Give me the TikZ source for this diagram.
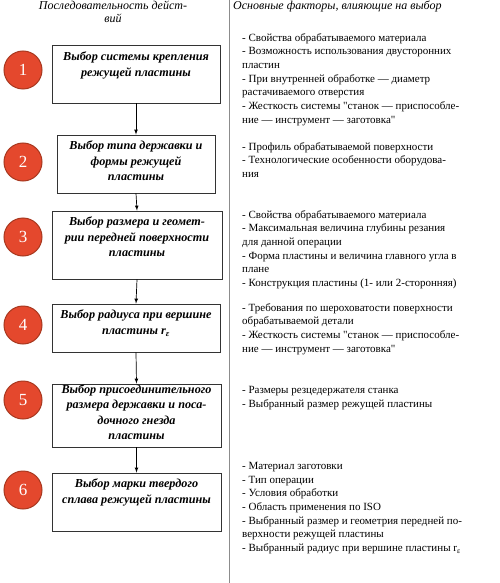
\documentclass[tikz,border=0pt]{standalone}
\usepackage{fontspec}
\setmainfont{Liberation Serif}
\usepackage{tikz}
\usetikzlibrary{shapes,arrows,positioning}
\definecolor{stepred}{HTML}{E4482D}
\definecolor{stepedge}{HTML}{A8381F}
\newcommand{\qq}{\textquotedbl}
\tikzset{
    stepbox/.style={draw=black!80, line width=0.9pt, rectangle, inner sep=0pt},
    boxtext/.style={anchor=north, align=center, inner sep=0pt, font=\fontsize{12.2}{15.3}\selectfont\bfseries\itshape},
    stepnum/.style={circle, fill=stepred, draw=stepedge, line width=1pt, minimum size=38pt, inner sep=0pt, text=white, font=\fontsize{17}{17}\selectfont},
    factors/.style={anchor=north west, align=left, inner sep=0pt, font=\fontsize{11}{13.7}\selectfont},
    head/.style={anchor=north, align=center, inner sep=0pt, font=\fontsize{12}{13.5}\selectfont\itshape}
}

\begin{document}
\begin{tikzpicture}[x=1pt,y=-1pt,>=latex]
    \useasboundingbox[fill=white] (0,0) rectangle (500,583);
    %Headers
    \node[head] (hl) at (113,0.5) {Последовательность дейст-\\вий};
    \node[head, anchor=north west] (hr) at (233,0.5) {Основные факторы, влияющие на выбор};
    %Separator
    \draw[black!45, line width=0.8pt] (229,0) -- (229,583);
    %Steps
    \node[stepbox, minimum width=168pt, minimum height=58pt] (b1) at (136,74) {};
    \node[stepbox, minimum width=158pt, minimum height=58pt] (b2) at (136,164) {};
    \node[stepbox, minimum width=170pt, minimum height=68pt] (b3) at (137,245) {};
    \node[stepbox, minimum width=168pt, minimum height=48pt] (b4) at (136,328) {};
    \node[stepbox, minimum width=169pt, minimum height=63pt] (b5) at (136.5,415.5) {};
    \node[stepbox, minimum width=169pt, minimum height=58pt] (b6) at (136.5,502) {};
    \node[boxtext] (t1) at (136,52) {Выбор системы крепления\\режущей пластины};
    \node[boxtext] (t2) at (136,141) {Выбор типа державки и\\формы режущей\\пластины};
    \node[boxtext] (t3) at (137,217) {Выбор размера и геомет-\\рии передней поверхности\\пластины};
    \node[boxtext] (t4) at (136,310) {Выбор радиуса при вершине\\пластины r\textsubscript{ε}};
    \node[boxtext] (t5) at (136.5,384.5) {Выбор присоединительного\\размера державки и поса-\\дочного гнезда\\пластины};
    \node[boxtext] (t6) at (136.5,479) {Выбор марки твердого\\сплава режущей пластины};
    %Numbers
    \node[stepnum] (n1) at (23,70) {1};
    \node[stepnum] (n2) at (23,162) {2};
    \node[stepnum] (n3) at (23,237) {3};
    \node[stepnum] (n4) at (23,325) {4};
    \node[stepnum] (n5) at (23,400) {5};
    \node[stepnum] (n6) at (23,490) {6};
    %Arrows
    \draw[->, line width=0.7pt] (b1.south) -- (b2.north);
    \draw[->, line width=0.7pt] (b2.south) -- (b3.north);
    \draw[->, line width=0.7pt] (b3.south) -- (b4.north);
    \draw[->, line width=0.7pt] (b4.south) -- (b5.north);
    \draw[->, line width=0.7pt] (b5.south) -- (b6.north);
    %Factors
    \node[factors] (f1) at (242,33) {- Свойства обрабатываемого материала\\- Возможность использования двусторонних\\пластин\\- При внутренней обработке — диаметр\\растачиваемого отверстия\\- Жесткость системы \qq станок — приспособле-\\ние — инструмент — заготовка\qq};
    \node[factors] (f2) at (242,142) {- Профиль обрабатываемой поверхности\\- Технологические особенности оборудова-\\ния};
    \node[factors] (f3) at (242,210) {- Свойства обрабатываемого материала\\- Максимальная величина глубины резания\\для данной операции\\- Форма пластины и величина главного угла в\\плане\\- Конструкция пластины (1- или 2-сторонняя)};
    \node[factors] (f4) at (242,303) {- Требования по шероховатости поверхности\\обрабатываемой детали\\- Жесткость системы \qq станок — приспособле-\\ние — инструмент — заготовка\qq};
    \node[factors] (f5) at (242,386) {- Размеры резцедержателя станка\\- Выбранный размер режущей пластины};
    \node[factors] (f6) at (242,462) {- Материал заготовки\\- Тип операции\\- Условия обработки\\- Область применения по ISO\\- Выбранный размер и геометрия передней по-\\верхности режущей пластины\\- Выбранный радиус при вершине пластины r\textsubscript{ε}};
\end{tikzpicture}
\end{document}
